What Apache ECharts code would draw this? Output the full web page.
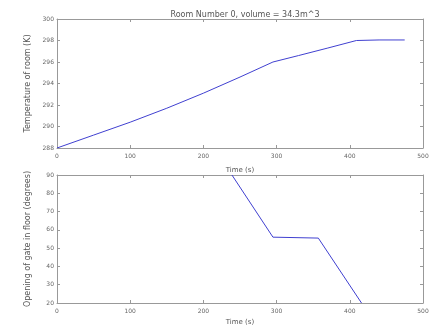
<!DOCTYPE html>
<html><head><meta charset="utf-8">
<script src="https://cdn.jsdelivr.net/npm/echarts@6/dist/echarts.min.js"></script>
<style>html,body{margin:0;padding:0;background:#fff}#c{width:437px;height:327px}</style>
</head><body><div id="c"></div>
<script>
const title = "Room Number 0, volume = 34.3m^3";
const tempTime = [0, 50, 100, 150, 200, 250, 295, 330, 370, 409, 440, 475];
const tempValues = [288, 289.2, 290.4, 291.7, 293.1, 294.6, 296, 296.6, 297.3, 298, 298.05, 298.05];
const gateTime = [239, 295, 357, 416];
const gateValues = [90, 56, 55.5, 20];
const xTicks = [0, 100, 200, 300, 400, 500];
const tempTicks = [288, 290, 292, 294, 296, 298, 300];
const gateTicks = [20, 30, 40, 50, 60, 70, 80, 90];

const font = "DejaVu Sans";
const lineColor = '#4040d0';
function xAxis(idx, pos, gap) {
  return {
    type: 'value', gridIndex: idx, min: 0, max: 500, interval: 100, position: pos,
    name: pos === 'bottom' ? 'Time (s)' : '', nameLocation: 'middle', nameGap: gap || 15,
    nameTextStyle: {fontFamily: font, fontSize: 7, color: '#555'},
    axisLine: {show: true, onZero: false, lineStyle: {color: '#999'}},
    axisTick: {show: true, inside: true, length: 3, lineStyle: {color: '#999'}},
    axisLabel: {show: pos === 'bottom', fontFamily: font, fontSize: 6, color: '#666', margin: 5},
    splitLine: {show: false}
  };
}
function yAxis(idx, pos, min, max, interval, name) {
  return {
    type: 'value', gridIndex: idx, min: min, max: max, interval: interval, position: pos,
    name: pos === 'left' ? name : '', nameLocation: 'middle', nameGap: 25,
    nameTextStyle: {fontFamily: font, fontSize: 8, color: '#555'},
    axisLine: {show: true, onZero: false, lineStyle: {color: '#999'}},
    axisTick: {show: true, inside: true, length: 3, lineStyle: {color: '#999'}},
    axisLabel: {show: pos === 'left', fontFamily: font, fontSize: 6, color: '#666', margin: 3},
    splitLine: {show: false}
  };
}
const chart = echarts.init(document.getElementById('c'));
chart.setOption({
  animation: false,
  backgroundColor: '#fff',
  title: {text: title, left: 240, top: 6, textAlign: 'center',
    textStyle: {fontFamily: font, fontSize: 8, fontWeight: 'normal', color: '#555'}},
  grid: [
    {left: 57, top: 19, width: 366, height: 129},
    {left: 57, top: 175, width: 366, height: 131}
  ],
  xAxis: [xAxis(0, 'bottom', 19), xAxis(0, 'top'), xAxis(1, 'bottom', 16), xAxis(1, 'top')],
  yAxis: [
    yAxis(0, 'left', 288, 300, 2, 'Temperature of room (K)'),
    yAxis(0, 'right', 288, 300, 2, ''),
    yAxis(1, 'left', 20, 90, 10, 'Opening of gate in floor (degrees)'),
    yAxis(1, 'right', 20, 90, 10, '')
  ],
  series: [
    {type: 'line', xAxisIndex: 0, yAxisIndex: 0, data: tempTime.map((t, i) => [t, tempValues[i]]),
      showSymbol: false, lineStyle: {color: lineColor, width: 1}},
    {type: 'line', xAxisIndex: 2, yAxisIndex: 2, data: gateTime.map((t, i) => [t, gateValues[i]]),
      showSymbol: false, lineStyle: {color: lineColor, width: 1}}
  ]
});
</script></body></html>
